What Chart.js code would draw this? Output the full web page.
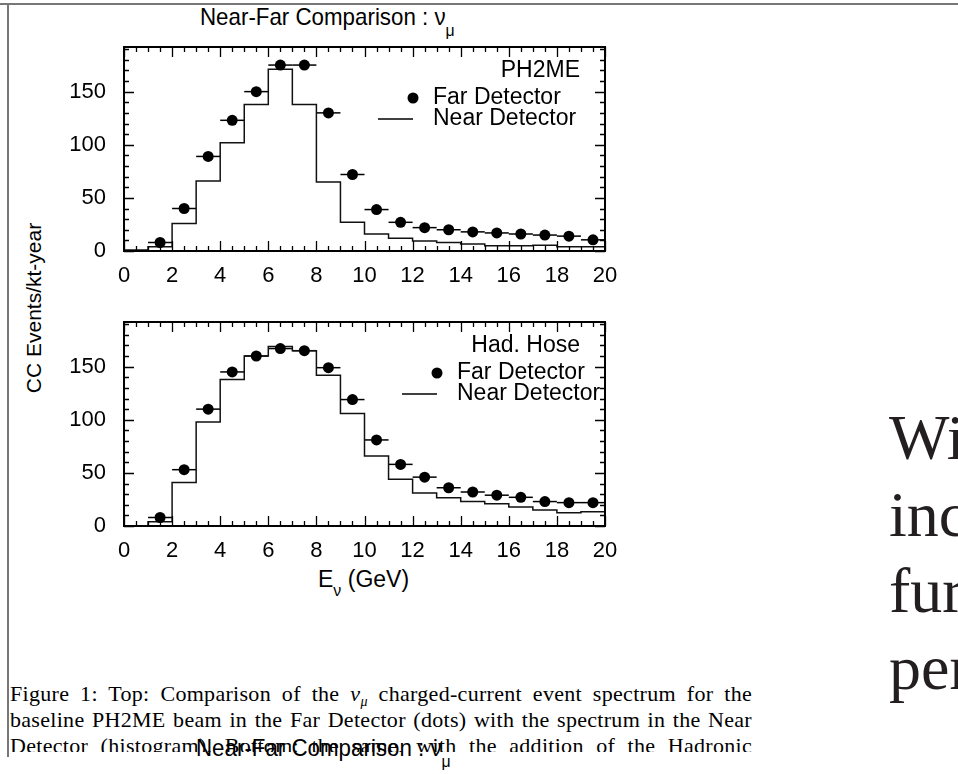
<!DOCTYPE html>
<html>
<head>
<meta charset="utf-8">
<script src="https://cdn.jsdelivr.net/npm/chart.js@4.4.1/dist/chart.umd.min.js"></script>
<style>
  html, body { margin: 0; padding: 0; background: #fff; }
  body { width: 958px; height: 774px; overflow: hidden; position: relative; font-family: "Liberation Sans", Arial, sans-serif; color: #000; }
  .abs { position: absolute; }
  .rule-top { left: 0; top: 3px; width: 958px; height: 2px; background: #777; }
  .rule-left { left: 7px; top: 3px; width: 2px; height: 754px; background: #777; }
  .title { font-size: 24px; white-space: nowrap; line-height: 1; transform: scaleX(0.93); transform-origin: 0 0; }
  .title sub { font-size: 17px; vertical-align: -11px; line-height: 0; }
  .ytitle { font-size: 21px; white-space: nowrap; transform: translate(-50%, -50%) rotate(-90deg); left: 34px; top: 308px; }
  .xtitle { font-size: 23px; white-space: nowrap; left: 318px; top: 566px; }
  .xtitle sub { font-size: 16px; vertical-align: -9px; line-height: 0; }
  canvas { position: absolute; left: 0; }
  .caption { left: 10px; top: 681px; width: 742px; height: 71px; overflow: hidden; font-family: "Liberation Serif", "Times New Roman", serif; font-size: 22px; letter-spacing: 0.3px; line-height: 26px; }
  .caption div { white-space: nowrap; text-align: justify; text-align-last: justify; }
  .caption sub { font-size: 14px; line-height: 0; }
  .side { left: 889px; top: 400px; font-family: "Liberation Serif", "Times New Roman", serif; font-size: 64px; line-height: 76.7px; color: #231f20; white-space: nowrap; }
</style>
</head>
<body>
<div class="abs rule-top"></div>
<div class="abs rule-left"></div>

<div class="abs title" style="left:200px; top:5px;">Near-Far Comparison : ν<sub>μ</sub></div>
<div class="abs ytitle">CC Events/kt-year</div>
<div class="abs xtitle">E<sub>ν</sub> (GeV)</div>

<canvas id="topPanel" width="640" height="260" style="top:40px"></canvas>
<canvas id="bottomPanel" width="640" height="260" style="top:315px"></canvas>

<div class="abs caption">
  <div>Figure 1: Top: Comparison of the <i>ν</i><sub><i>μ</i></sub> charged-current event spectrum for the</div>
  <div>baseline PH2ME beam in the Far Detector (dots) with the spectrum in the Near</div>
  <div>Detector (histogram). Bottom: the same, with the addition of the Hadronic</div>
</div>
<div class="abs title" style="left:196px; top:736px;">Near-Far Comparison : ν<sub>μ</sub></div>

<div class="abs side">Wi<br>inc<br>fur<br>per</div>

<script>
// lower edges of the 1 GeV energy bins
const binLow = [0, 1, 2, 3, 4, 5, 6, 7, 8, 9, 10, 11, 12, 13, 14, 15, 16, 17, 18, 19];
const xTicks = [0, 2, 4, 6, 8, 10, 12, 14, 16, 18, 20];
const yTicks = [0, 50, 100, 150];
const yMax = 192;

// PH2ME beam
const farPH2ME  = [null, 8, 40, 89, 123, 150, 175, 175, 130, 72, 39, 27, 22, 20, 18, 17, 16, 15, 14, 10.5];
const nearPH2ME = [1, 4, 26, 66, 102, 138, 171, 138, 65, 27, 16, 12, 9.5, 8, 6.5, 5, 5, 5.5, 4, 4];

// Hadronic hose
const farHadHose  = [null, 8, 53, 110, 145, 160, 167, 165, 149, 119, 81, 58, 46, 36, 32, 29, 27, 23, 22, 22];
const nearHadHose = [0, 4, 41, 98, 138, 160, 169, 165, 142, 106, 66, 44, 31, 26.5, 23, 21, 18, 15, 12.5, 13.5];

const tickFont = { family: "'Liberation Sans', Arial, sans-serif", size: 22 };

// inner tick marks on all four sides plus the frame
const frameTicks = {
  id: 'frameTicks',
  afterDatasetsDraw(chart) {
    const { ctx, chartArea: a, scales: { x, y } } = chart;
    ctx.save();
    ctx.strokeStyle = '#000';
    ctx.lineWidth = 1.3;
    ctx.beginPath();
    for (let v = 0; v <= 20; v += 0.5) {
      const px = Math.round(x.getPixelForValue(v)) + 0.5;
      const len = v % 2 === 0 ? 10 : 5;
      ctx.moveTo(px, a.bottom); ctx.lineTo(px, a.bottom - len);
      ctx.moveTo(px, a.top); ctx.lineTo(px, a.top + len);
    }
    for (let v = 0; v <= yMax; v += 10) {
      const py = Math.round(y.getPixelForValue(v)) + 0.5;
      const len = v % 50 === 0 ? 10 : 5;
      ctx.moveTo(a.left, py); ctx.lineTo(a.left + len, py);
      ctx.moveTo(a.right, py); ctx.lineTo(a.right - len, py);
    }
    ctx.stroke();
    ctx.lineWidth = 2;
    ctx.strokeRect(a.left, a.top, a.width, a.height);
    ctx.restore();
  }
};

// horizontal bars showing the bin width of each far-detector point
const binBars = {
  id: 'binBars',
  beforeDatasetsDraw(chart) {
    const { ctx, scales: { x, y } } = chart;
    chart.data.datasets.forEach(ds => {
      if (!ds.binWidth) return;
      ctx.save();
      ctx.strokeStyle = '#000';
      ctx.lineWidth = 1.5;
      ds.data.forEach(p => {
        const py = y.getPixelForValue(p.y);
        ctx.beginPath();
        ctx.moveTo(x.getPixelForValue(p.x - ds.binWidth / 2), py);
        ctx.lineTo(x.getPixelForValue(p.x + ds.binWidth / 2), py);
        ctx.stroke();
      });
      ctx.restore();
    });
  }
};

// beam label and key drawn inside the frame
function makeKey(label, keyX) {
  return {
    id: 'panelKey',
    afterDraw(chart) {
      const { ctx } = chart;
      ctx.save();
      ctx.fillStyle = '#000';
      ctx.strokeStyle = '#000';
      ctx.font = "23px 'Liberation Sans', Arial, sans-serif";
      ctx.textBaseline = 'middle';
      ctx.textAlign = 'right';
      ctx.fillText(label, 580, 31);
      ctx.beginPath();
      ctx.arc(keyX, 58, 5.5, 0, Math.PI * 2);
      ctx.fill();
      ctx.lineWidth = 1.5;
      ctx.beginPath();
      ctx.moveTo(keyX - 35, 79); ctx.lineTo(keyX, 79);
      ctx.stroke();
      ctx.textAlign = 'left';
      ctx.fillText('Far Detector', keyX + 20, 58);
      ctx.fillText('Near Detector', keyX + 20, 79);
      ctx.restore();
    }
  };
}

// axes keep a fixed size so the frame lands in the same place on both panels
function fixPadding(s) {
  s.paddingTop = 0; s.paddingBottom = 0;
  s.paddingLeft = 0; s.paddingRight = 0;
}

function makePanel(id, far, near, label, keyX) {
  const farPts = [];
  binLow.forEach((lo, i) => { if (far[i] !== null) farPts.push({ x: lo + 0.5, y: far[i] }); });
  const nearPts = binLow.map((lo, i) => ({ x: lo, y: near[i] }));
  nearPts.push({ x: binLow[binLow.length - 1] + 1, y: near[near.length - 1] });

  return new Chart(document.getElementById(id), {
    type: 'scatter',
    data: {
      datasets: [
        {
          label: 'Far Detector',
          data: farPts,
          binWidth: 1,
          pointRadius: 5.5,
          pointBackgroundColor: '#000',
          pointBorderWidth: 0,
          order: 0
        },
        {
          type: 'line',
          label: 'Near Detector',
          data: nearPts,
          stepped: 'before',
          borderColor: '#111',
          borderWidth: 1.5,
          pointRadius: 0,
          fill: false,
          order: 1
        }
      ]
    },
    options: {
      responsive: false,
      animation: false,
      layout: { padding: { left: 0, right: 35, top: 7, bottom: 0 } },
      plugins: { legend: { display: false }, tooltip: { enabled: false } },
      scales: {
        x: {
          type: 'linear', min: 0, max: 20,
          grid: { display: false, drawTicks: false },
          border: { display: false },
          ticks: { font: tickFont, color: '#000', padding: 12, maxRotation: 0, autoSkip: false },
          afterBuildTicks: s => { s.ticks = xTicks.map(v => ({ value: v })); },
          afterFit: s => { s.height = 49; fixPadding(s); }
        },
        y: {
          min: 0, max: yMax,
          grid: { display: false, drawTicks: false },
          border: { display: false },
          ticks: { font: tickFont, color: '#000', padding: 18 },
          afterBuildTicks: s => { s.ticks = yTicks.map(v => ({ value: v })); },
          afterFit: s => { s.width = 124; fixPadding(s); }
        }
      }
    },
    plugins: [binBars, frameTicks, makeKey(label, keyX)]
  });
}

makePanel('topPanel', farPH2ME, nearPH2ME, 'PH2ME', 413);
makePanel('bottomPanel', farHadHose, nearHadHose, 'Had. Hose', 437);
</script>
</body>
</html>
